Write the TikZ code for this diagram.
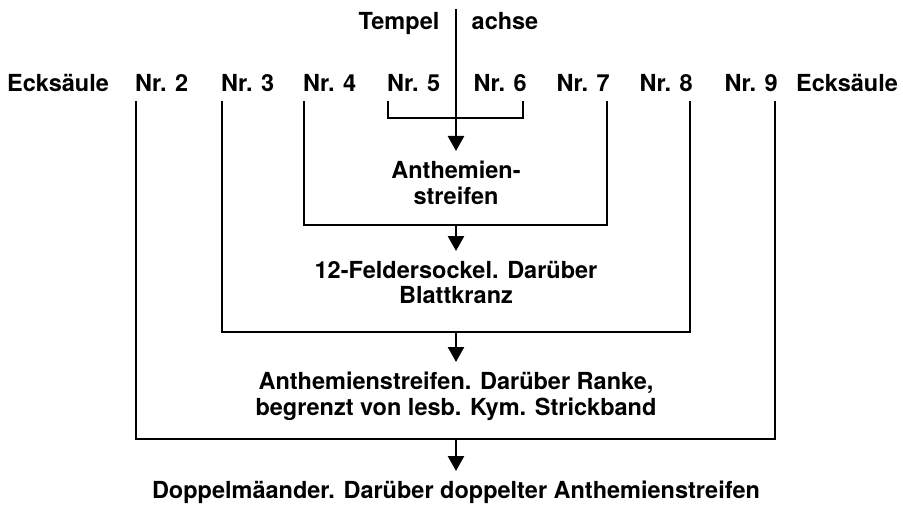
\documentclass[tikz,border=0pt]{standalone}
\usepackage{fontspec}
\setmainfont{TeX Gyre Heros}
\usetikzlibrary{arrows.meta}
\begin{document}
\begin{tikzpicture}[x=1pt,y=-1pt,
  every node/.style={font=\bfseries\fontsize{23.5}{25.5}\selectfont, inner sep=0pt},
  lbl/.style={text height=17pt, text depth=0pt},
  res/.style={align=center, anchor=north, inner xsep=0pt, inner ysep=10pt},
  conn/.style={line width=2.6pt},
  arr/.style={line width=2.6pt, -{Triangle[width=16pt,length=15pt]}}]
\useasboundingbox (0,0) rectangle (903,508);
% top labels
\node[lbl] (tempel) at (399,21) {Tempel};
\node[lbl] (achse) at (505,21) {achse};
\node[lbl] (eL) at (58,83) {Ecksäule};
\node[lbl, anchor=west] (n2) at (135,83) {Nr. 2};
\node[lbl, anchor=west] (n3) at (221,83) {Nr. 3};
\node[lbl, anchor=west] (n4) at (303,83) {Nr. 4};
\node[lbl, anchor=west] (n5) at (387,83) {Nr. 5};
\node[lbl, anchor=east] (n6) at (527,83) {Nr. 6};
\node[lbl, anchor=east] (n7) at (610,83) {Nr. 7};
\node[lbl, anchor=east] (n8) at (693,83) {Nr. 8};
\node[lbl, anchor=east] (n9) at (778,83) {Nr. 9};
\node[lbl] (eR) at (847,83) {Ecksäule};
% line tops
\coordinate (t2) at (136,101);
\coordinate (t3) at (222,101);
\coordinate (t4) at (304,101);
\coordinate (t5) at (388,101);
\coordinate (t6) at (523,101);
\coordinate (t7) at (607,101);
\coordinate (t8) at (690,101);
\coordinate (t9) at (775,101);
\coordinate (axtop) at (456,9);
% junctions
\coordinate (j0) at (456,118);
\coordinate (j1) at (456,225);
\coordinate (j2) at (456,332);
\coordinate (j3) at (456,439);
% result nodes
\node[res] (a1) at (456,151) {Anthemien-\\streifen};
\node[res] (a2) at (456,251) {12-Feldersockel. Darüber\\Blattkranz};
\node[res] (a3) at (456,362) {Anthemienstreifen. Darüber Ranke,\\begrenzt von lesb. Kym. Strickband};
\node[res] (a4) at (456,471) {Doppelmäander. Darüber doppelter Anthemienstreifen};
% connectors
\draw[conn] (t5) |- (j0) -| (t6);
\draw[arr] (axtop) -- (a1.north);
\draw[conn] (t4) |- (j1) -| (t7);
\draw[arr] (j1) -- (a2.north);
\draw[conn] (t3) |- (j2) -| (t8);
\draw[arr] (j2) -- (a3.north);
\draw[conn] (t2) |- (j3) -| (t9);
\draw[arr] (j3) -- (a4.north);
\end{tikzpicture}
\end{document}
